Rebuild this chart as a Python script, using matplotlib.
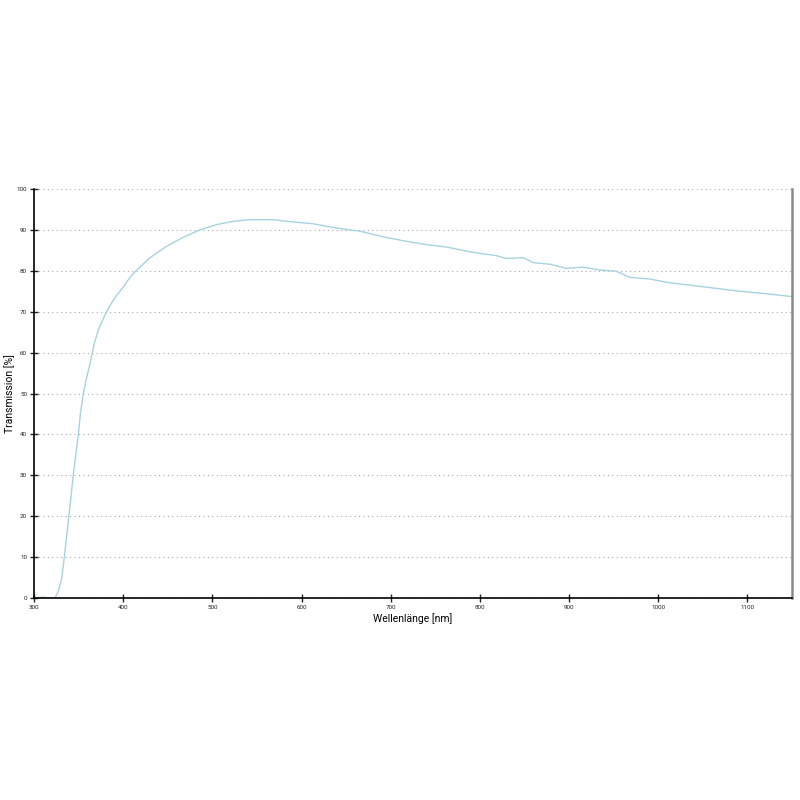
import numpy as np
import matplotlib
matplotlib.use("Agg")
import matplotlib.pyplot as plt

# transmission curve (nm, %)
wavelength = [300, 310, 318, 323.5, 327, 331, 334, 339.6, 344, 349.7, 352, 355.3,
              358, 362, 365.4, 368, 372, 376, 381, 386, 392, 400, 407, 414.3,
              430, 448.8, 467.4, 486, 504.8, 523.4, 542, 568, 583, 613, 635.5,
              654, 665.5, 691.6, 717.8, 740, 762.6, 792.5, 818.7, 830, 848.5,
              859.8, 878.5, 897, 915.8, 934.5, 953, 968, 990.6, 1009, 1035,
              1065, 1091.5, 1121, 1150]
transmission = [0, 0.2, 0, 0, 1.5, 4.7, 10, 21, 30, 40, 45, 50,
                53, 56.5, 60, 62.5, 65.5, 67.5, 69.8, 71.8, 73.8, 76, 78.2, 80,
                83.2, 86, 88.2, 90, 91.3, 92.1, 92.5, 92.5, 92.1, 91.5, 90.6,
                90, 89.7, 88.3, 87.2, 86.4, 85.8, 84.5, 83.7, 83, 83.2,
                82, 81.6, 80.6, 80.9, 80.2, 79.9, 78.4, 78, 77.2, 76.5,
                75.7, 75, 74.4, 73.7]

x_ticks = list(range(300, 1101, 100))
y_ticks = list(range(0, 101, 10))

plt.rcParams['font.family'] = ['Roboto', 'DejaVu Sans']

fig = plt.figure(figsize=(8, 8), dpi=100)
ax = fig.add_axes([0.0425, 0.2525, 0.9475, 0.51125])

ax.plot(wavelength, transmission, color='#a6d3df', linewidth=1.0)

ax.set_xlim(300, 1150)
ax.set_ylim(0, 100)
ax.set_xticks(x_ticks)
ax.set_yticks(y_ticks)
ax.tick_params(direction='inout', length=6, width=1, labelsize=4.5, colors='#222222', pad=2)
ax.yaxis.grid(True, linestyle=(0, (1, 3)), color='#aaaaaa', linewidth=0.8)
ax.set_axisbelow(True)

ax.spines['top'].set_visible(False)
ax.spines['right'].set_color('#888888')
ax.spines['right'].set_linewidth(1.8)
ax.spines['left'].set_linewidth(1.2)
ax.spines['bottom'].set_linewidth(1.2)

ax.set_xlabel("Wellenlänge [nm]", fontsize=7.5, labelpad=2)
ax.set_ylabel("Transmission [%]", fontsize=7.5, labelpad=1)

fig.savefig("out.png", dpi=100)
